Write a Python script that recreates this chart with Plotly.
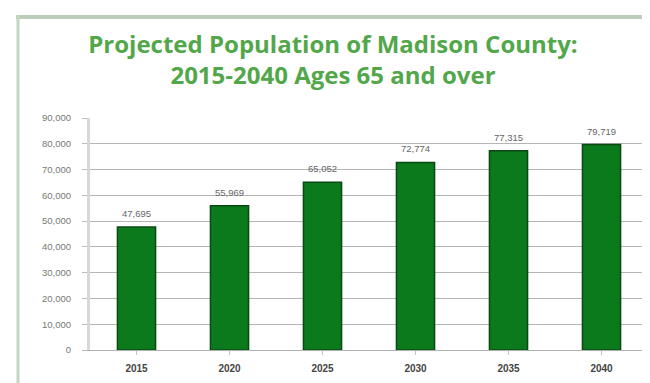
import plotly.graph_objects as go

years = ["2015", "2020", "2025", "2030", "2035", "2040"]
population = [47695, 55969, 65052, 72774, 77315, 79719]
y_ticks = [0, 10000, 20000, 30000, 40000, 50000, 60000, 70000, 80000, 90000]
y_tick_labels = ["0", "10,000", "20,000", "30,000", "40,000", "50,000", "60,000", "70,000", "80,000", "90,000"]

L, R, T, B = 82, 10, 110, 41
W, H = 650, 383
pw, ph = W - L - R, H - T - B

def px(x):
    return (x - L) / pw

def py(y):
    return (H - B - y) / ph

fig = go.Figure()
fig.add_trace(go.Bar(
    x=years, y=population,
    marker=dict(color="#0b7a1c", line=dict(color="#0a4a12", width=1.5)),
    width=0.41,
))

# value labels: category index positions on the category axis
for i, v in enumerate(population):
    fig.add_annotation(
        x=i, y=v, xref="x", yref="y",
        text=f"{v:,}", showarrow=False,
        yanchor="bottom", yshift=6,
        font=dict(family="Liberation Sans", size=9.5, color="#666666"),
    )

fig.update_layout(
    width=W, height=H,
    margin=dict(l=L, r=R, t=T, b=B),
    paper_bgcolor="white", plot_bgcolor="white",
    showlegend=False,
    title=dict(
        text="Projected Population of Madison County:<br>2015-2040 Ages 65 and over",
        x=325 / W, xanchor="center", y=1 - 45 / H, yanchor="middle",
        font=dict(family="Open Sans", size=24, color="#52a74a", weight="bold"),
    ),
)
fig.update_xaxes(
    type="category", range=[-0.5, len(years) - 0.5],
    showgrid=False, showline=True, linecolor="#b0b0b0", linewidth=1,
    ticks="outside", ticklen=4, tickcolor="#c0c0c0",
    ticklabelstandoff=5,
    tickfont=dict(family="Liberation Sans", size=10, color="#444444", weight="bold"),
)
fig.update_yaxes(
    range=[0, 90000], tickvals=y_ticks, ticktext=y_tick_labels,
    showgrid=True, gridcolor="#b5b5b5", gridwidth=1,
    showline=True, linecolor="#d8d8d8", linewidth=3,
    ticks="outside", ticklen=5, tickcolor="#bbbbbb",
    ticklabelstandoff=9,
    tickfont=dict(family="Liberation Sans", size=9.5, color="#777777"),
    zeroline=False,
)

# frame border lines (top and left)
fig.add_shape(type="line", xref="paper", yref="paper",
              x0=px(8), x1=px(650), y0=py(9), y1=py(9),
              line=dict(color="#bccdbc", width=4))
fig.add_shape(type="line", xref="paper", yref="paper",
              x0=px(10), x1=px(10), y0=py(7), y1=py(383),
              line=dict(color="#c4d6c4", width=3))

fig.write_html("out.html")
